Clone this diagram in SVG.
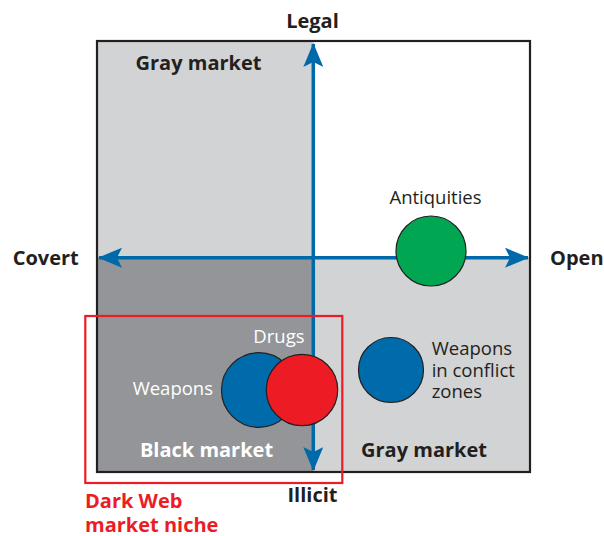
<svg xmlns="http://www.w3.org/2000/svg" width="604" height="536" viewBox="0 0 604 536">
<style>
text{font-family:"Open Sans","Noto Sans","Liberation Sans",sans-serif;fill:#231f20}
.b{font-weight:bold;font-size:20px}
.r{font-size:18.5px}
.w{fill:#ffffff}
.red{fill:#ed1c24}
.axis{stroke:#0069aa;stroke-width:3.5;fill:none}
.node{stroke:#231f20;stroke-width:1.2}
</style>
<defs>
<marker id="ah" viewBox="0 0 24 20" refX="23" refY="10" markerUnits="userSpaceOnUse" markerWidth="24" markerHeight="20" orient="auto-start-reverse">
<path d="M0,0 L24,10 L0,20 L5,10 Z" fill="#0069aa"/>
</marker>
</defs>
<rect width="604" height="536" fill="#ffffff"/>
<g id="quadrants">
<rect x="97" y="41" width="216.3" height="217" fill="#d1d3d4"/>
<rect x="97" y="258" width="216.3" height="214" fill="#939598"/>
<rect x="313.3" y="258" width="216.7" height="214" fill="#d1d3d4"/>
<rect x="97" y="41" width="433" height="431" fill="none" stroke="#231f20" stroke-width="2.2"/>
</g>
<g id="connectors">
<line class="axis" x1="313.3" y1="44" x2="313.3" y2="470" marker-start="url(#ah)" marker-end="url(#ah)"/>
<line class="axis" x1="99" y1="257.7" x2="528" y2="257.7" marker-start="url(#ah)" marker-end="url(#ah)"/>
</g>
<g id="labels">
<text class="b" x="312.5" y="28" text-anchor="middle">Legal</text>
<text class="b" x="312.5" y="502" text-anchor="middle">Illicit</text>
<text class="b" x="12.7" y="265">Covert</text>
<text class="b" x="550" y="265">Open</text>
<text class="b" x="198.5" y="70" text-anchor="middle">Gray market</text>
<text class="b w" x="206.5" y="456.5" text-anchor="middle">Black market</text>
<text class="b" x="424" y="456.5" text-anchor="middle">Gray market</text>
</g>
<g id="antiquities">
<circle class="node" cx="431" cy="251" r="35" fill="#00a651"/>
<text class="r" x="435.5" y="204" text-anchor="middle">Antiquities</text>
</g>
<g id="weapons">
<circle class="node" cx="258.8" cy="390" r="37.3" fill="#006bab"/>
<text class="r w" x="213" y="395" text-anchor="end">Weapons</text>
</g>
<g id="drugs">
<circle class="node" cx="302" cy="390" r="35.7" fill="#ed1c24"/>
<text class="r w" x="304.5" y="343" text-anchor="end">Drugs</text>
</g>
<g id="weapons-conflict">
<circle class="node" cx="391" cy="370" r="32.5" fill="#006bab"/>
<text class="r" x="431.7" y="355">Weapons</text>
<text class="r" x="431.7" y="376.7">in conflict</text>
<text class="r" x="431.7" y="398">zones</text>
</g>
<g id="dark-web-niche">
<rect x="85.3" y="316" width="257" height="167" fill="none" stroke="#ed1c24" stroke-width="2.2"/>
<text class="b red" x="85" y="508">Dark Web</text>
<text class="b red" x="85" y="531.5">market niche</text>
</g>
</svg>
